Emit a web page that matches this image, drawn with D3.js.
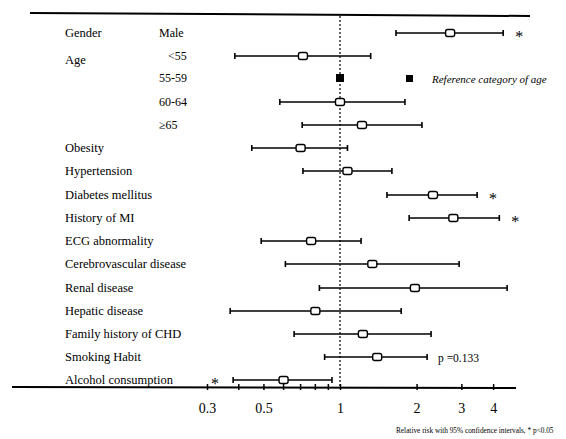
<!DOCTYPE html>
<html>
<head>
<meta charset="utf-8">
<script src="https://cdn.jsdelivr.net/npm/d3@7"></script>
<style>
  body { margin: 0; background: #fff; }
  svg { font-family: "Liberation Serif", "DejaVu Serif", serif; }
  text { fill: #000; }
</style>
</head>
<body>
<svg width="566" height="439"></svg>
<script>
// rows, top to bottom
var labels = ["Gender", "Age", "", "", "", "Obesity", "Hypertension", "Diabetes mellitus", "History of MI",
              "ECG abnormality", "Cerebrovascular disease", "Renal disease", "Hepatic disease",
              "Family history of CHD", "Smoking Habit", "Alcohol consumption"];
var sublabels = ["Male", "<55", "55-59", "60-64", "\u226565", "", "", "", "", "", "", "", "", "", "", ""];
var rr = [2.71, 0.715, 1.0, 1.0, 1.22, 0.70, 1.07, 2.32, 2.79, 0.77, 1.34, 1.97, 0.80, 1.23, 1.40, 0.60];
var lo = [1.66, 0.386, null, 0.58, 0.71, 0.45, 0.715, 1.53, 1.87, 0.49, 0.61, 0.83, 0.37, 0.66, 0.87, 0.38];
var hi = [4.38, 1.32, null, 1.80, 2.10, 1.07, 1.60, 3.46, 4.23, 1.21, 2.94, 4.54, 1.74, 2.28, 2.20, 0.93];
var sig = ["right", "", "", "", "", "", "", "right", "right", "", "", "", "", "", "", "left"];
var rowY = [33, 56, 78, 102, 125, 148, 171, 195, 218, 241, 264, 288, 311, 334, 357, 380];
var tickVals = [0.3, 0.5, 1, 2, 3, 4];
var minorTicks = [0.4, 0.6, 0.7, 0.8, 0.9];

var svg = d3.select("svg");

var x = d3.scaleLog().domain([0.3, 1]).range([207, 340]);
var axisY = 387;

// top rule
svg.append("line").attr("x1", 30).attr("x2", 530).attr("y1", 13).attr("y2", 16)
   .attr("stroke", "#000").attr("stroke-width", 2);

// bottom axis
svg.append("line").attr("x1", 12).attr("x2", 516).attr("y1", axisY).attr("y2", axisY + 1)
   .attr("stroke", "#000").attr("stroke-width", 2);

var axis = d3.axisBottom(x).tickValues(tickVals).tickSize(4).tickFormat(function(d) { return d; });
var gAxis = svg.append("g").attr("transform", "translate(0," + axisY + ")").call(axis);
gAxis.select(".domain").remove();
gAxis.selectAll("line").attr("stroke", "#000").attr("stroke-width", 1.5).attr("y1", -3).attr("y2", 3);
gAxis.selectAll("text").attr("y", 16).attr("font-size", "14px")
     .attr("font-family", "Liberation Serif, serif").attr("fill", "#000");

svg.append("g").selectAll("line").data(minorTicks).enter().append("line")
   .attr("x1", function(d) { return x(d); }).attr("x2", function(d) { return x(d); })
   .attr("y1", axisY - 3).attr("y2", axisY + 3).attr("stroke", "#000").attr("stroke-width", 1.5);

// reference line at RR = 1
svg.append("line").attr("x1", x(1)).attr("x2", x(1)).attr("y1", 16).attr("y2", axisY)
   .attr("stroke", "#000").attr("stroke-width", 1.2).attr("stroke-dasharray", "2,2");

// row labels
svg.append("g").selectAll("text").data(labels).enter().append("text")
   .attr("x", 65).attr("y", function(d, i) { return rowY[i] + (i == 1 ? 4 : 0); })
   .attr("dy", "0.35em").attr("font-size", "12.5px").text(function(d) { return d; });

svg.append("g").selectAll("text").data(sublabels).enter().append("text")
   .attr("x", function(d, i) { return i == 1 ? 168 : 159; })
   .attr("y", function(d, i) { return rowY[i]; })
   .attr("dy", "0.35em").attr("font-size", "12px").text(function(d) { return d; });

// confidence intervals
var rows = rr.map(function(d, i) { return { rr: d, lo: lo[i], hi: hi[i], y: rowY[i], sig: sig[i] }; });
var ci = rows.filter(function(d) { return d.lo != null; });

var gci = svg.append("g").attr("stroke", "#000").attr("stroke-width", 1.6);
gci.selectAll(".bar").data(ci).enter().append("line")
   .attr("x1", function(d) { return x(d.lo); }).attr("x2", function(d) { return x(d.hi); })
   .attr("y1", function(d) { return d.y; }).attr("y2", function(d) { return d.y; });
gci.selectAll(".capl").data(ci).enter().append("line")
   .attr("x1", function(d) { return x(d.lo); }).attr("x2", function(d) { return x(d.lo); })
   .attr("y1", function(d) { return d.y - 3; }).attr("y2", function(d) { return d.y + 3; });
gci.selectAll(".capr").data(ci).enter().append("line")
   .attr("x1", function(d) { return x(d.hi); }).attr("x2", function(d) { return x(d.hi); })
   .attr("y1", function(d) { return d.y - 3; }).attr("y2", function(d) { return d.y + 3; });

// point estimates
svg.append("g").selectAll("rect").data(ci).enter().append("rect")
   .attr("x", function(d) { return x(d.rr) - 4.5; }).attr("y", function(d) { return d.y - 3.5; })
   .attr("width", 9).attr("height", 7).attr("rx", 2)
   .attr("fill", "#fff").attr("stroke", "#000").attr("stroke-width", 1.4);

// reference category (filled)
var refRows = rows.filter(function(d) { return d.lo == null; });
svg.append("g").selectAll("rect").data(refRows).enter().append("rect")
   .attr("x", function(d) { return x(d.rr) - 4; }).attr("y", function(d) { return d.y - 4; })
   .attr("width", 8).attr("height", 8).attr("fill", "#000");

// legend
svg.append("rect").attr("x", 406).attr("y", 75).attr("width", 7).attr("height", 7).attr("fill", "#000");
svg.append("text").attr("x", 432).attr("y", 79).attr("dy", "0.35em").attr("font-size", "11px")
   .attr("font-style", "italic").text("Reference category of age");

// significance stars
svg.append("g").selectAll("text").data(rows.filter(function(d) { return d.sig != ""; })).enter().append("text")
   .attr("x", function(d) { return d.sig == "right" ? x(d.hi) + 12 : x(d.lo) - 22; })
   .attr("y", function(d) { return d.y + 3; }).attr("dy", "0.35em")
   .attr("font-size", "16px").attr("fill", "#000").text("*");

svg.append("text").attr("x", 438).attr("y", 358).attr("dy", "0.35em").attr("font-size", "11.5px")
   .text("p =0.133");

// caption
svg.append("text").attr("x", 396).attr("y", 433).attr("font-size", "7.3px")
   .text("Relative risk with 95% confidence intervals, * p<0.05");
</script>
</body>
</html>
